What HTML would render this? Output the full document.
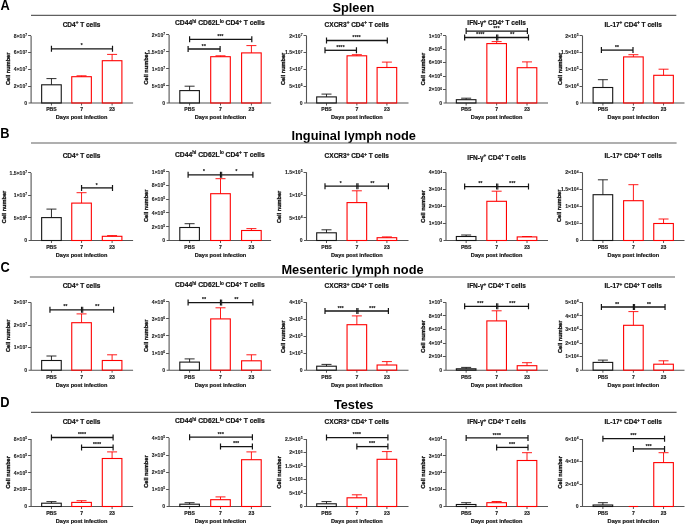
<!DOCTYPE html><html><head><meta charset="utf-8"><title>Figure</title><style>html,body{margin:0;padding:0;background:#fff;}svg{display:block;will-change:transform}
text{font-family:"Liberation Sans",sans-serif;font-weight:bold}
.L{font-size:13.8px;fill:#000}
.T{font-size:12.8px;fill:#000;text-anchor:middle}
.ct{font-size:6.5px;fill:#111;text-anchor:middle;stroke:#111;stroke-width:0.2}
.ct .s{font-size:4.6px}
.tk{font-size:5.1px;fill:#1a1a1a;text-anchor:end;stroke:#1a1a1a;stroke-width:0.1}
.tk .e{font-size:3.4px}
.xl{font-size:5.1px;fill:#222;text-anchor:middle;stroke:#222;stroke-width:0.2}
.dl{font-size:5.6px;fill:#111;text-anchor:middle;stroke:#111;stroke-width:0.2}
.yl{font-size:5.6px;fill:#111;text-anchor:middle;stroke:#111;stroke-width:0.35}
.st{font-size:4.6px;letter-spacing:0.3px;fill:#222;text-anchor:middle;stroke:#222;stroke-width:0.2}
.ax{stroke:#555;fill:none}
.k{stroke:#151515;fill:none}
.r{stroke:#ff0000;fill:none}
</style></head><body>
<svg width="685" height="525" viewBox="0 0 685 525">
<text class="L" transform="translate(0.6,9.7) scale(0.93,1)">A</text>
<text class="T" x="353.4" y="11.8">Spleen</text>
<path d="M31 15.45H676.3" stroke="#606060" stroke-width="1.2"/>
<text class="ct" x="81.55" y="26.6">CD4<tspan class="s" dy="-2.3">+</tspan><tspan dy="2.3"> T cells</tspan></text>
<path class="ax" d="M31.1 35.9V103M28.6 103H133.1" stroke-width="1.1"/>
<path class="ax" d="M28.1 35.5H31.1M28.1 52.5H31.1M28.1 69.5H31.1M28.1 86.5H31.1M51.45 103V105.5M81.55 103V105.5M112.1 103V105.5" stroke-width="1"/>
<text class="tk" x="27.2" y="37.7">8×10<tspan class="e" dy="-1.8">7</tspan></text>
<text class="tk" x="27.2" y="54.47">6×10<tspan class="e" dy="-1.8">7</tspan></text>
<text class="tk" x="27.2" y="71.25">4×10<tspan class="e" dy="-1.8">7</tspan></text>
<text class="tk" x="27.2" y="88.02">2×10<tspan class="e" dy="-1.8">7</tspan></text>
<text class="tk" x="27.2" y="104.8">0</text>
<text class="xl" x="51.45" y="111.3">PBS</text>
<text class="xl" x="81.55" y="111.3">7</text>
<text class="xl" x="112.1" y="111.3">23</text>
<text class="dl" x="81.55" y="119.4">Days post infection</text>
<text class="yl" transform="translate(9.8,68.8) rotate(-90)">Cell number</text>
<path class="k" d="M51.45 78.6V84.8M46.45 78.6H56.45" stroke-width="0.9"/>
<rect class="k" x="41.65" y="84.8" width="19.6" height="18.2" stroke-width="1.1"/>
<path class="r" d="M81.55 75.8V76.7M76.55 75.8H86.55" stroke-width="0.9"/>
<rect class="r" x="71.75" y="76.7" width="19.6" height="26.3" stroke-width="1.1"/>
<path class="r" d="M112.1 54.4V60.7M107.1 54.4H117.1" stroke-width="0.9"/>
<rect class="r" x="102.3" y="60.7" width="19.6" height="42.3" stroke-width="1.1"/>
<path class="k" d="M51.45 48.8H112.5" stroke-width="1.3"/>
<path class="k" d="M51.45 45.8V51.8M112.5 45.8V51.8" stroke-width="1.2"/>
<text class="st" x="81.82" y="47.4">*</text>
<text class="ct" style="font-size:6.75px" x="219.85" y="25.2">CD44<tspan class="s" dy="-2.3">hi</tspan><tspan dy="2.3"> CD62L</tspan><tspan class="s" dy="-2.3">lo</tspan><tspan dy="2.3"> CD4</tspan><tspan class="s" dy="-2.3">+</tspan><tspan dy="2.3"> T cells</tspan></text>
<path class="ax" d="M169.1 34.9V103M166.6 103H271.1" stroke-width="1.1"/>
<path class="ax" d="M166.1 34.5H169.1M166.1 51.5H169.1M166.1 68.5H169.1M166.1 85.5H169.1M189.6 103V105.5M220.5 103V105.5M251.4 103V105.5" stroke-width="1"/>
<text class="tk" x="165.2" y="36.7">2×10<tspan class="e" dy="-1.8">7</tspan></text>
<text class="tk" x="165.2" y="53.72">1.5×10<tspan class="e" dy="-1.8">7</tspan></text>
<text class="tk" x="165.2" y="70.75">1×10<tspan class="e" dy="-1.8">7</tspan></text>
<text class="tk" x="165.2" y="87.77">5×10<tspan class="e" dy="-1.8">6</tspan></text>
<text class="tk" x="165.2" y="104.8">0</text>
<text class="xl" x="189.6" y="111.3">PBS</text>
<text class="xl" x="220.5" y="111.3">7</text>
<text class="xl" x="251.4" y="111.3">23</text>
<text class="dl" x="220.5" y="119.4">Days post infection</text>
<text class="yl" transform="translate(147.9,68.3) rotate(-90)">Cell number</text>
<path class="k" d="M189.6 86.2V90.6M184.6 86.2H194.6" stroke-width="0.9"/>
<rect class="k" x="179.8" y="90.6" width="19.6" height="12.4" stroke-width="1.1"/>
<path class="r" d="M220.5 55.8V56.7M215.5 55.8H225.5" stroke-width="0.9"/>
<rect class="r" x="210.7" y="56.7" width="19.6" height="46.3" stroke-width="1.1"/>
<path class="r" d="M251.4 45.6V52.9M246.4 45.6H256.4" stroke-width="0.9"/>
<rect class="r" x="241.6" y="52.9" width="19.6" height="50.1" stroke-width="1.1"/>
<path class="k" d="M189.6 39.35H251.8" stroke-width="1.3"/>
<path class="k" d="M189.6 36.35V42.35M251.8 36.35V42.35" stroke-width="1.2"/>
<text class="st" x="220.55" y="37.95">***</text>
<path class="k" d="M188.1 49H220.1" stroke-width="1.3"/>
<path class="k" d="M188.1 46V52M220.1 46V52" stroke-width="1.2"/>
<text class="st" x="203.95" y="47.6">**</text>
<text class="ct" x="356.75" y="26.7">CXCR3<tspan class="s" dy="-2.3">+</tspan><tspan dy="2.3"> CD4</tspan><tspan class="s" dy="-2.3">+</tspan><tspan dy="2.3"> T cells</tspan></text>
<path class="ax" d="M306.5 35.8V103M304 103H408.5" stroke-width="1.1"/>
<path class="ax" d="M303.5 35.5H306.5M303.5 52.5H306.5M303.5 69.5H306.5M303.5 86.5H306.5M326.5 103V105.5M356.85 103V105.5M386.9 103V105.5" stroke-width="1"/>
<text class="tk" x="302.6" y="37.6">2×10<tspan class="e" dy="-1.8">7</tspan></text>
<text class="tk" x="302.6" y="54.4">1.5×10<tspan class="e" dy="-1.8">7</tspan></text>
<text class="tk" x="302.6" y="71.2">1×10<tspan class="e" dy="-1.8">7</tspan></text>
<text class="tk" x="302.6" y="88">5×10<tspan class="e" dy="-1.8">6</tspan></text>
<text class="tk" x="302.6" y="104.8">0</text>
<text class="xl" x="326.5" y="111.3">PBS</text>
<text class="xl" x="356.85" y="111.3">7</text>
<text class="xl" x="386.9" y="111.3">23</text>
<text class="dl" x="356.85" y="119.4">Days post infection</text>
<text class="yl" transform="translate(285.3,68.9) rotate(-90)">Cell number</text>
<path class="k" d="M326.5 94.1V96.9M321.5 94.1H331.5" stroke-width="0.9"/>
<rect class="k" x="316.7" y="96.9" width="19.6" height="6.1" stroke-width="1.1"/>
<path class="r" d="M356.85 54.7V55.8M351.85 54.7H361.85" stroke-width="0.9"/>
<rect class="r" x="347.05" y="55.8" width="19.6" height="47.2" stroke-width="1.1"/>
<path class="r" d="M386.9 62.1V67.5M381.9 62.1H391.9" stroke-width="0.9"/>
<rect class="r" x="377.1" y="67.5" width="19.6" height="35.5" stroke-width="1.1"/>
<path class="k" d="M326.5 40.5H387.3" stroke-width="1.3"/>
<path class="k" d="M326.5 37.5V43.5M387.3 37.5V43.5" stroke-width="1.2"/>
<text class="st" x="356.75" y="39.1">****</text>
<path class="k" d="M325 50.3H356.45" stroke-width="1.3"/>
<path class="k" d="M325 47.3V53.3M356.45 47.3V53.3" stroke-width="1.2"/>
<text class="st" x="340.58" y="48.9">****</text>
<text class="ct" x="496.6" y="24.9">IFN-γ<tspan class="s" dy="-2.3">+</tspan><tspan dy="2.3"> CD4</tspan><tspan class="s" dy="-2.3">+</tspan><tspan dy="2.3"> T cells</tspan></text>
<path class="ax" d="M446 35.7V103M443.5 103H548" stroke-width="1.1"/>
<path class="ax" d="M443 35.5H446M443 49.5H446M443 62.5H446M443 76.5H446M443 89.5H446M466.15 103V105.5M496.65 103V105.5M527 103V105.5" stroke-width="1"/>
<text class="tk" x="442.1" y="37.5">1×10<tspan class="e" dy="-1.8">7</tspan></text>
<text class="tk" x="442.1" y="50.96">8×10<tspan class="e" dy="-1.8">6</tspan></text>
<text class="tk" x="442.1" y="64.42">6×10<tspan class="e" dy="-1.8">6</tspan></text>
<text class="tk" x="442.1" y="77.88">4×10<tspan class="e" dy="-1.8">6</tspan></text>
<text class="tk" x="442.1" y="91.34">2×10<tspan class="e" dy="-1.8">6</tspan></text>
<text class="tk" x="442.1" y="104.8">0</text>
<text class="xl" x="466.15" y="111.3">PBS</text>
<text class="xl" x="496.65" y="111.3">7</text>
<text class="xl" x="527" y="111.3">23</text>
<text class="dl" x="496.65" y="119.4">Days post infection</text>
<text class="yl" transform="translate(425,69.1) rotate(-90)">Cell number</text>
<path class="k" d="M466.15 98.2V99.7M461.15 98.2H471.15" stroke-width="0.9"/>
<rect class="k" x="456.35" y="99.7" width="19.6" height="3.3" stroke-width="1.1"/>
<path class="r" d="M496.65 41.6V43.6M491.65 41.6H501.65" stroke-width="0.9"/>
<rect class="r" x="486.85" y="43.6" width="19.6" height="59.4" stroke-width="1.1"/>
<path class="r" d="M527 61.9V67.7M522 61.9H532" stroke-width="0.9"/>
<rect class="r" x="517.2" y="67.7" width="19.6" height="35.3" stroke-width="1.1"/>
<path class="k" d="M466.15 31.1H527.4" stroke-width="1.3"/>
<path class="k" d="M466.15 28.1V34.1M527.4 28.1V34.1" stroke-width="1.2"/>
<text class="st" x="496.62" y="29.7">***</text>
<path class="k" d="M464.65 37.5H528.5" stroke-width="1.3"/>
<path class="k" d="M464.65 34.5V40.5M496.65 34.5V40.5M528.5 34.5V40.5" stroke-width="1.2"/>
<path class="k" d="M497.85 34.5V40.5" stroke-width="1"/>
<text class="st" x="480.5" y="36.1">****</text>
<text class="st" x="512.43" y="36.1">**</text>
<text class="ct" x="633.15" y="26.7">IL-17<tspan class="s" dy="-2.3">+</tspan><tspan dy="2.3"> CD4</tspan><tspan class="s" dy="-2.3">+</tspan><tspan dy="2.3"> T cells</tspan></text>
<path class="ax" d="M582.5 35.7V103M580 103H684.5" stroke-width="1.1"/>
<path class="ax" d="M579.5 35.5H582.5M579.5 52.5H582.5M579.5 69.5H582.5M579.5 86.5H582.5M602.9 103V105.5M633.4 103V105.5M663.55 103V105.5" stroke-width="1"/>
<text class="tk" x="578.6" y="37.5">2×10<tspan class="e" dy="-1.8">5</tspan></text>
<text class="tk" x="578.6" y="54.32">1.5×10<tspan class="e" dy="-1.8">5</tspan></text>
<text class="tk" x="578.6" y="71.15">1×10<tspan class="e" dy="-1.8">5</tspan></text>
<text class="tk" x="578.6" y="87.98">5×10<tspan class="e" dy="-1.8">4</tspan></text>
<text class="tk" x="578.6" y="104.8">0</text>
<text class="xl" x="602.9" y="111.3">PBS</text>
<text class="xl" x="633.4" y="111.3">7</text>
<text class="xl" x="663.55" y="111.3">23</text>
<text class="dl" x="633.4" y="119.4">Days post infection</text>
<text class="yl" transform="translate(561.6,68.9) rotate(-90)">Cell number</text>
<path class="k" d="M602.9 79.7V87.5M597.9 79.7H607.9" stroke-width="0.9"/>
<rect class="k" x="593.1" y="87.5" width="19.6" height="15.5" stroke-width="1.1"/>
<path class="r" d="M633.4 54.7V56.9M628.4 54.7H638.4" stroke-width="0.9"/>
<rect class="r" x="623.6" y="56.9" width="19.6" height="46.1" stroke-width="1.1"/>
<path class="r" d="M663.55 69.2V75.3M658.55 69.2H668.55" stroke-width="0.9"/>
<rect class="r" x="653.75" y="75.3" width="19.6" height="27.7" stroke-width="1.1"/>
<path class="k" d="M601.4 50.1H633" stroke-width="1.3"/>
<path class="k" d="M601.4 47.1V53.1M633 47.1V53.1" stroke-width="1.2"/>
<text class="st" x="617.05" y="48.7">**</text>
<text class="L" transform="translate(0.2,137.6) scale(0.93,1)">B</text>
<text class="T" x="353.7" y="139.5">Inguinal lymph node</text>
<path d="M31 143H676.6" stroke="#606060" stroke-width="1.2"/>
<text class="ct" x="81.55" y="158">CD4<tspan class="s" dy="-2.3">+</tspan><tspan dy="2.3"> T cells</tspan></text>
<path class="ax" d="M31.1 172.9V240.5M28.6 240.5H133.1" stroke-width="1.1"/>
<path class="ax" d="M28.1 172.5H31.1M28.1 195.5H31.1M28.1 217.5H31.1M51.45 240.5V243M81.55 240.5V243M112.1 240.5V243" stroke-width="1"/>
<text class="tk" x="27.2" y="174.7">1.5×10<tspan class="e" dy="-1.8">7</tspan></text>
<text class="tk" x="27.2" y="197.23">1×10<tspan class="e" dy="-1.8">7</tspan></text>
<text class="tk" x="27.2" y="219.77">5×10<tspan class="e" dy="-1.8">6</tspan></text>
<text class="tk" x="27.2" y="242.3">0</text>
<text class="xl" x="51.45" y="248.8">PBS</text>
<text class="xl" x="81.55" y="248.8">7</text>
<text class="xl" x="112.1" y="248.8">23</text>
<text class="dl" x="81.55" y="256.9">Days post infection</text>
<text class="yl" transform="translate(5.7,207) rotate(-90)">Cell number</text>
<path class="k" d="M51.45 209.1V217.6M46.45 209.1H56.45" stroke-width="0.9"/>
<rect class="k" x="41.65" y="217.6" width="19.6" height="22.9" stroke-width="1.1"/>
<path class="r" d="M81.55 192.7V203.1M76.55 192.7H86.55" stroke-width="0.9"/>
<rect class="r" x="71.75" y="203.1" width="19.6" height="37.4" stroke-width="1.1"/>
<path class="r" d="M112.1 235.6V236.3M107.1 235.6H117.1" stroke-width="0.9"/>
<rect class="r" x="102.3" y="236.3" width="19.6" height="4.2" stroke-width="1.1"/>
<path class="k" d="M81.55 187.9H112.5" stroke-width="1.3"/>
<path class="k" d="M81.55 184.9V190.9M112.5 184.9V190.9" stroke-width="1.2"/>
<text class="st" x="96.88" y="186.5">*</text>
<text class="ct" style="font-size:6.75px" x="219.85" y="156.7">CD44<tspan class="s" dy="-2.3">hi</tspan><tspan dy="2.3"> CD62L</tspan><tspan class="s" dy="-2.3">lo</tspan><tspan dy="2.3"> CD4</tspan><tspan class="s" dy="-2.3">+</tspan><tspan dy="2.3"> T cells</tspan></text>
<path class="ax" d="M169.1 171.7V240.5M166.6 240.5H271.1" stroke-width="1.1"/>
<path class="ax" d="M166.1 171.5H169.1M166.1 185.5H169.1M166.1 199.5H169.1M166.1 212.5H169.1M166.1 226.5H169.1M189.6 240.5V243M220.5 240.5V243M251.4 240.5V243" stroke-width="1"/>
<text class="tk" x="165.2" y="173.5">1×10<tspan class="e" dy="-1.8">6</tspan></text>
<text class="tk" x="165.2" y="187.26">8×10<tspan class="e" dy="-1.8">5</tspan></text>
<text class="tk" x="165.2" y="201.02">6×10<tspan class="e" dy="-1.8">5</tspan></text>
<text class="tk" x="165.2" y="214.78">4×10<tspan class="e" dy="-1.8">5</tspan></text>
<text class="tk" x="165.2" y="228.54">2×10<tspan class="e" dy="-1.8">5</tspan></text>
<text class="tk" x="165.2" y="242.3">0</text>
<text class="xl" x="189.6" y="248.8">PBS</text>
<text class="xl" x="220.5" y="248.8">7</text>
<text class="xl" x="251.4" y="248.8">23</text>
<text class="dl" x="220.5" y="256.9">Days post infection</text>
<text class="yl" transform="translate(147.9,205.8) rotate(-90)">Cell number</text>
<path class="k" d="M189.6 223.7V227.5M184.6 223.7H194.6" stroke-width="0.9"/>
<rect class="k" x="179.8" y="227.5" width="19.6" height="13" stroke-width="1.1"/>
<path class="r" d="M220.5 178.7V193.7M215.5 178.7H225.5" stroke-width="0.9"/>
<rect class="r" x="210.7" y="193.7" width="19.6" height="46.8" stroke-width="1.1"/>
<path class="r" d="M251.4 228.6V230.5M246.4 228.6H256.4" stroke-width="0.9"/>
<rect class="r" x="241.6" y="230.5" width="19.6" height="10" stroke-width="1.1"/>
<path class="k" d="M188.1 174.8H252.9" stroke-width="1.3"/>
<path class="k" d="M188.1 171.8V177.8M220.5 171.8V177.8M252.9 171.8V177.8" stroke-width="1.2"/>
<path class="k" d="M221.7 171.8V177.8" stroke-width="1"/>
<text class="st" x="204.15" y="173.4">*</text>
<text class="st" x="236.55" y="173.4">*</text>
<text class="ct" x="356.75" y="158.1">CXCR3<tspan class="s" dy="-2.3">+</tspan><tspan dy="2.3"> CD4</tspan><tspan class="s" dy="-2.3">+</tspan><tspan dy="2.3"> T cells</tspan></text>
<path class="ax" d="M306.5 172.3V240.5M304 240.5H408.5" stroke-width="1.1"/>
<path class="ax" d="M303.5 172.5H306.5M303.5 195.5H306.5M303.5 217.5H306.5M326.5 240.5V243M356.85 240.5V243M386.9 240.5V243" stroke-width="1"/>
<text class="tk" x="302.6" y="174.1">1.5×10<tspan class="e" dy="-1.8">5</tspan></text>
<text class="tk" x="302.6" y="196.83">1×10<tspan class="e" dy="-1.8">5</tspan></text>
<text class="tk" x="302.6" y="219.57">5×10<tspan class="e" dy="-1.8">4</tspan></text>
<text class="tk" x="302.6" y="242.3">0</text>
<text class="xl" x="326.5" y="248.8">PBS</text>
<text class="xl" x="356.85" y="248.8">7</text>
<text class="xl" x="386.9" y="248.8">23</text>
<text class="dl" x="356.85" y="256.9">Days post infection</text>
<text class="yl" transform="translate(281.4,206.9) rotate(-90)">Cell number</text>
<path class="k" d="M326.5 229.8V232.8M321.5 229.8H331.5" stroke-width="0.9"/>
<rect class="k" x="316.7" y="232.8" width="19.6" height="7.7" stroke-width="1.1"/>
<path class="r" d="M356.85 190.8V202.6M351.85 190.8H361.85" stroke-width="0.9"/>
<rect class="r" x="347.05" y="202.6" width="19.6" height="37.9" stroke-width="1.1"/>
<path class="r" d="M386.9 236.9V237.7M381.9 236.9H391.9" stroke-width="0.9"/>
<rect class="r" x="377.1" y="237.7" width="19.6" height="2.8" stroke-width="1.1"/>
<path class="k" d="M325 186.2H388.4" stroke-width="1.3"/>
<path class="k" d="M325 183.2V189.2M356.85 183.2V189.2M388.4 183.2V189.2" stroke-width="1.2"/>
<path class="k" d="M358.05 183.2V189.2" stroke-width="1"/>
<text class="st" x="340.78" y="184.8">*</text>
<text class="st" x="372.48" y="184.8">**</text>
<text class="ct" x="496.6" y="159.6">IFN-γ<tspan class="s" dy="-2.3">+</tspan><tspan dy="2.3"> CD4</tspan><tspan class="s" dy="-2.3">+</tspan><tspan dy="2.3"> T cells</tspan></text>
<path class="ax" d="M446 172.5V240.5M443.5 240.5H548" stroke-width="1.1"/>
<path class="ax" d="M443 172.5H446M443 189.5H446M443 206.5H446M443 223.5H446M466.15 240.5V243M496.65 240.5V243M527 240.5V243" stroke-width="1"/>
<text class="tk" x="442.1" y="174.3">4×10<tspan class="e" dy="-1.8">4</tspan></text>
<text class="tk" x="442.1" y="191.3">3×10<tspan class="e" dy="-1.8">4</tspan></text>
<text class="tk" x="442.1" y="208.3">2×10<tspan class="e" dy="-1.8">4</tspan></text>
<text class="tk" x="442.1" y="225.3">1×10<tspan class="e" dy="-1.8">4</tspan></text>
<text class="tk" x="442.1" y="242.3">0</text>
<text class="xl" x="466.15" y="248.8">PBS</text>
<text class="xl" x="496.65" y="248.8">7</text>
<text class="xl" x="527" y="248.8">23</text>
<text class="dl" x="496.65" y="256.9">Days post infection</text>
<text class="yl" transform="translate(424.9,206.5) rotate(-90)">Cell number</text>
<path class="k" d="M466.15 235V236.5M461.15 235H471.15" stroke-width="0.9"/>
<rect class="k" x="456.35" y="236.5" width="19.6" height="4" stroke-width="1.1"/>
<path class="r" d="M496.65 191.2V201.3M491.65 191.2H501.65" stroke-width="0.9"/>
<rect class="r" x="486.85" y="201.3" width="19.6" height="39.2" stroke-width="1.1"/>
<path class="r" d="M527 236.5V236.9M522 236.5H532" stroke-width="0.9"/>
<rect class="r" x="517.2" y="236.9" width="19.6" height="3.6" stroke-width="1.1"/>
<path class="k" d="M464.65 186.6H528.5" stroke-width="1.3"/>
<path class="k" d="M464.65 183.6V189.6M496.65 183.6V189.6M528.5 183.6V189.6" stroke-width="1.2"/>
<path class="k" d="M497.85 183.6V189.6" stroke-width="1"/>
<text class="st" x="480.5" y="185.2">**</text>
<text class="st" x="512.43" y="185.2">***</text>
<text class="ct" x="633.15" y="157.8">IL-17<tspan class="s" dy="-2.3">+</tspan><tspan dy="2.3"> CD4</tspan><tspan class="s" dy="-2.3">+</tspan><tspan dy="2.3"> T cells</tspan></text>
<path class="ax" d="M582.5 172.5V240.5M580 240.5H684.5" stroke-width="1.1"/>
<path class="ax" d="M579.5 172.5H582.5M579.5 189.5H582.5M579.5 206.5H582.5M579.5 223.5H582.5M602.9 240.5V243M633.4 240.5V243M663.55 240.5V243" stroke-width="1"/>
<text class="tk" x="578.6" y="174.3">2×10<tspan class="e" dy="-1.8">4</tspan></text>
<text class="tk" x="578.6" y="191.3">1.5×10<tspan class="e" dy="-1.8">4</tspan></text>
<text class="tk" x="578.6" y="208.3">1×10<tspan class="e" dy="-1.8">4</tspan></text>
<text class="tk" x="578.6" y="225.3">5×10<tspan class="e" dy="-1.8">3</tspan></text>
<text class="tk" x="578.6" y="242.3">0</text>
<text class="xl" x="602.9" y="248.8">PBS</text>
<text class="xl" x="633.4" y="248.8">7</text>
<text class="xl" x="663.55" y="248.8">23</text>
<text class="dl" x="633.4" y="256.9">Days post infection</text>
<text class="yl" transform="translate(561.2,205.8) rotate(-90)">Cell number</text>
<path class="k" d="M602.9 179.8V194.7M597.9 179.8H607.9" stroke-width="0.9"/>
<rect class="k" x="593.1" y="194.7" width="19.6" height="45.8" stroke-width="1.1"/>
<path class="r" d="M633.4 184.7V200.7M628.4 184.7H638.4" stroke-width="0.9"/>
<rect class="r" x="623.6" y="200.7" width="19.6" height="39.8" stroke-width="1.1"/>
<path class="r" d="M663.55 219V223.5M658.55 219H668.55" stroke-width="0.9"/>
<rect class="r" x="653.75" y="223.5" width="19.6" height="17" stroke-width="1.1"/>
<text class="L" transform="translate(0.6,271.5) scale(0.93,1)">C</text>
<text class="T" x="352.5" y="273.7">Mesenteric lymph node</text>
<path d="M29.9 277H675" stroke="#606060" stroke-width="1.2"/>
<text class="ct" x="81.55" y="287.9">CD4<tspan class="s" dy="-2.3">+</tspan><tspan dy="2.3"> T cells</tspan></text>
<path class="ax" d="M31.1 302.5V370.2M28.6 370.2H133.1" stroke-width="1.1"/>
<path class="ax" d="M28.1 302.5H31.1M28.1 325.5H31.1M28.1 347.5H31.1M51.45 370.2V372.7M81.55 370.2V372.7M112.1 370.2V372.7" stroke-width="1"/>
<text class="tk" x="27.2" y="304.3">3×10<tspan class="e" dy="-1.8">7</tspan></text>
<text class="tk" x="27.2" y="326.87">2×10<tspan class="e" dy="-1.8">7</tspan></text>
<text class="tk" x="27.2" y="349.43">1×10<tspan class="e" dy="-1.8">7</tspan></text>
<text class="tk" x="27.2" y="372">0</text>
<text class="xl" x="51.45" y="378.5">PBS</text>
<text class="xl" x="81.55" y="378.5">7</text>
<text class="xl" x="112.1" y="378.5">23</text>
<text class="dl" x="81.55" y="386.6">Days post infection</text>
<text class="yl" transform="translate(10.1,335.8) rotate(-90)">Cell number</text>
<path class="k" d="M51.45 356V360.5M46.45 356H56.45" stroke-width="0.9"/>
<rect class="k" x="41.65" y="360.5" width="19.6" height="9.7" stroke-width="1.1"/>
<path class="r" d="M81.55 313.9V322.7M76.55 313.9H86.55" stroke-width="0.9"/>
<rect class="r" x="71.75" y="322.7" width="19.6" height="47.5" stroke-width="1.1"/>
<path class="r" d="M112.1 354.8V360.5M107.1 354.8H117.1" stroke-width="0.9"/>
<rect class="r" x="102.3" y="360.5" width="19.6" height="9.7" stroke-width="1.1"/>
<path class="k" d="M49.95 309.8H113.6" stroke-width="1.3"/>
<path class="k" d="M49.95 306.8V312.8M81.55 306.8V312.8M113.6 306.8V312.8" stroke-width="1.2"/>
<path class="k" d="M82.75 306.8V312.8" stroke-width="1"/>
<text class="st" x="65.6" y="308.4">**</text>
<text class="st" x="97.42" y="308.4">**</text>
<text class="ct" style="font-size:6.75px" x="219.85" y="286.9">CD44<tspan class="s" dy="-2.3">hi</tspan><tspan dy="2.3"> CD62L</tspan><tspan class="s" dy="-2.3">lo</tspan><tspan dy="2.3"> CD4</tspan><tspan class="s" dy="-2.3">+</tspan><tspan dy="2.3"> T cells</tspan></text>
<path class="ax" d="M169.1 301.7V370.2M166.6 370.2H271.1" stroke-width="1.1"/>
<path class="ax" d="M166.1 301.5H169.1M166.1 318.5H169.1M166.1 335.5H169.1M166.1 353.5H169.1M189.6 370.2V372.7M220.5 370.2V372.7M251.4 370.2V372.7" stroke-width="1"/>
<text class="tk" x="165.2" y="303.5">4×10<tspan class="e" dy="-1.8">6</tspan></text>
<text class="tk" x="165.2" y="320.62">3×10<tspan class="e" dy="-1.8">6</tspan></text>
<text class="tk" x="165.2" y="337.75">2×10<tspan class="e" dy="-1.8">6</tspan></text>
<text class="tk" x="165.2" y="354.88">1×10<tspan class="e" dy="-1.8">6</tspan></text>
<text class="tk" x="165.2" y="372">0</text>
<text class="xl" x="189.6" y="378.5">PBS</text>
<text class="xl" x="220.5" y="378.5">7</text>
<text class="xl" x="251.4" y="378.5">23</text>
<text class="dl" x="220.5" y="386.6">Days post infection</text>
<text class="yl" transform="translate(147.9,335.8) rotate(-90)">Cell number</text>
<path class="k" d="M189.6 358.9V362.1M184.6 358.9H194.6" stroke-width="0.9"/>
<rect class="k" x="179.8" y="362.1" width="19.6" height="8.1" stroke-width="1.1"/>
<path class="r" d="M220.5 307.8V318.9M215.5 307.8H225.5" stroke-width="0.9"/>
<rect class="r" x="210.7" y="318.9" width="19.6" height="51.3" stroke-width="1.1"/>
<path class="r" d="M251.4 354.8V360.8M246.4 354.8H256.4" stroke-width="0.9"/>
<rect class="r" x="241.6" y="360.8" width="19.6" height="9.4" stroke-width="1.1"/>
<path class="k" d="M188.1 302.6H252.9" stroke-width="1.3"/>
<path class="k" d="M188.1 299.6V305.6M220.5 299.6V305.6M252.9 299.6V305.6" stroke-width="1.2"/>
<path class="k" d="M221.7 299.6V305.6" stroke-width="1"/>
<text class="st" x="204.15" y="301.2">**</text>
<text class="st" x="236.55" y="301.2">**</text>
<text class="ct" x="356.75" y="288.1">CXCR3<tspan class="s" dy="-2.3">+</tspan><tspan dy="2.3"> CD4</tspan><tspan class="s" dy="-2.3">+</tspan><tspan dy="2.3"> T cells</tspan></text>
<path class="ax" d="M306.5 302.2V370.2M304 370.2H408.5" stroke-width="1.1"/>
<path class="ax" d="M303.5 302.5H306.5M303.5 319.5H306.5M303.5 336.5H306.5M303.5 353.5H306.5M326.5 370.2V372.7M356.85 370.2V372.7M386.9 370.2V372.7" stroke-width="1"/>
<text class="tk" x="302.6" y="304">4×10<tspan class="e" dy="-1.8">5</tspan></text>
<text class="tk" x="302.6" y="321">3×10<tspan class="e" dy="-1.8">5</tspan></text>
<text class="tk" x="302.6" y="338">2×10<tspan class="e" dy="-1.8">5</tspan></text>
<text class="tk" x="302.6" y="355">1×10<tspan class="e" dy="-1.8">5</tspan></text>
<text class="tk" x="302.6" y="372">0</text>
<text class="xl" x="326.5" y="378.5">PBS</text>
<text class="xl" x="356.85" y="378.5">7</text>
<text class="xl" x="386.9" y="378.5">23</text>
<text class="dl" x="356.85" y="386.6">Days post infection</text>
<text class="yl" transform="translate(284.9,336.8) rotate(-90)">Cell number</text>
<path class="k" d="M326.5 364.4V366.2M321.5 364.4H331.5" stroke-width="0.9"/>
<rect class="k" x="316.7" y="366.2" width="19.6" height="4" stroke-width="1.1"/>
<path class="r" d="M356.85 315.9V324.7M351.85 315.9H361.85" stroke-width="0.9"/>
<rect class="r" x="347.05" y="324.7" width="19.6" height="45.5" stroke-width="1.1"/>
<path class="r" d="M386.9 361.6V365M381.9 361.6H391.9" stroke-width="0.9"/>
<rect class="r" x="377.1" y="365" width="19.6" height="5.2" stroke-width="1.1"/>
<path class="k" d="M325 311H388.4" stroke-width="1.3"/>
<path class="k" d="M325 308V314M356.85 308V314M388.4 308V314" stroke-width="1.2"/>
<path class="k" d="M358.05 308V314" stroke-width="1"/>
<text class="st" x="340.78" y="309.6">***</text>
<text class="st" x="372.48" y="309.6">***</text>
<text class="ct" x="496.6" y="287.9">IFN-γ<tspan class="s" dy="-2.3">+</tspan><tspan dy="2.3"> CD4</tspan><tspan class="s" dy="-2.3">+</tspan><tspan dy="2.3"> T cells</tspan></text>
<path class="ax" d="M446 302.2V370.2M443.5 370.2H548" stroke-width="1.1"/>
<path class="ax" d="M443 302.5H446M443 315.5H446M443 329.5H446M443 343.5H446M443 356.5H446M466.15 370.2V372.7M496.65 370.2V372.7M527 370.2V372.7" stroke-width="1"/>
<text class="tk" x="442.1" y="304">1×10<tspan class="e" dy="-1.8">5</tspan></text>
<text class="tk" x="442.1" y="317.6">8×10<tspan class="e" dy="-1.8">4</tspan></text>
<text class="tk" x="442.1" y="331.2">6×10<tspan class="e" dy="-1.8">4</tspan></text>
<text class="tk" x="442.1" y="344.8">4×10<tspan class="e" dy="-1.8">4</tspan></text>
<text class="tk" x="442.1" y="358.4">2×10<tspan class="e" dy="-1.8">4</tspan></text>
<text class="tk" x="442.1" y="372">0</text>
<text class="xl" x="466.15" y="378.5">PBS</text>
<text class="xl" x="496.65" y="378.5">7</text>
<text class="xl" x="527" y="378.5">23</text>
<text class="dl" x="496.65" y="386.6">Days post infection</text>
<text class="yl" transform="translate(424.9,336.5) rotate(-90)">Cell number</text>
<path class="k" d="M466.15 367.4V368.8M461.15 367.4H471.15" stroke-width="0.9"/>
<rect class="k" x="456.35" y="368.8" width="19.6" height="1.4" stroke-width="1.1"/>
<path class="r" d="M496.65 310.8V320.9M491.65 310.8H501.65" stroke-width="0.9"/>
<rect class="r" x="486.85" y="320.9" width="19.6" height="49.3" stroke-width="1.1"/>
<path class="r" d="M527 362.7V365.7M522 362.7H532" stroke-width="0.9"/>
<rect class="r" x="517.2" y="365.7" width="19.6" height="4.5" stroke-width="1.1"/>
<path class="k" d="M464.65 306.3H528.5" stroke-width="1.3"/>
<path class="k" d="M464.65 303.3V309.3M496.65 303.3V309.3M528.5 303.3V309.3" stroke-width="1.2"/>
<path class="k" d="M497.85 303.3V309.3" stroke-width="1"/>
<text class="st" x="480.5" y="304.9">***</text>
<text class="st" x="512.43" y="304.9">***</text>
<text class="ct" x="633.15" y="288.1">IL-17<tspan class="s" dy="-2.3">+</tspan><tspan dy="2.3"> CD4</tspan><tspan class="s" dy="-2.3">+</tspan><tspan dy="2.3"> T cells</tspan></text>
<path class="ax" d="M582.5 302.2V370.2M580 370.2H684.5" stroke-width="1.1"/>
<path class="ax" d="M579.5 302.5H582.5M579.5 315.5H582.5M579.5 329.5H582.5M579.5 343.5H582.5M579.5 356.5H582.5M602.9 370.2V372.7M633.4 370.2V372.7M663.55 370.2V372.7" stroke-width="1"/>
<text class="tk" x="578.6" y="304">5×10<tspan class="e" dy="-1.8">4</tspan></text>
<text class="tk" x="578.6" y="317.6">4×10<tspan class="e" dy="-1.8">4</tspan></text>
<text class="tk" x="578.6" y="331.2">3×10<tspan class="e" dy="-1.8">4</tspan></text>
<text class="tk" x="578.6" y="344.8">2×10<tspan class="e" dy="-1.8">4</tspan></text>
<text class="tk" x="578.6" y="358.4">1×10<tspan class="e" dy="-1.8">4</tspan></text>
<text class="tk" x="578.6" y="372">0</text>
<text class="xl" x="602.9" y="378.5">PBS</text>
<text class="xl" x="633.4" y="378.5">7</text>
<text class="xl" x="663.55" y="378.5">23</text>
<text class="dl" x="633.4" y="386.6">Days post infection</text>
<text class="yl" transform="translate(561.5,336.8) rotate(-90)">Cell number</text>
<path class="k" d="M602.9 360.1V362.4M597.9 360.1H607.9" stroke-width="0.9"/>
<rect class="k" x="593.1" y="362.4" width="19.6" height="7.8" stroke-width="1.1"/>
<path class="r" d="M633.4 311.6V325.3M628.4 311.6H638.4" stroke-width="0.9"/>
<rect class="r" x="623.6" y="325.3" width="19.6" height="44.9" stroke-width="1.1"/>
<path class="r" d="M663.55 360.8V364.2M658.55 360.8H668.55" stroke-width="0.9"/>
<rect class="r" x="653.75" y="364.2" width="19.6" height="6" stroke-width="1.1"/>
<path class="k" d="M601.4 307H665.05" stroke-width="1.3"/>
<path class="k" d="M601.4 304V310M633.4 304V310M665.05 304V310" stroke-width="1.2"/>
<path class="k" d="M634.6 304V310" stroke-width="1"/>
<text class="st" x="617.25" y="305.6">**</text>
<text class="st" x="649.07" y="305.6">**</text>
<text class="L" transform="translate(0.2,406.7) scale(0.93,1)">D</text>
<text class="T" x="353.7" y="409.1">Testes</text>
<path d="M31 412.45H676.6" stroke="#606060" stroke-width="1.2"/>
<text class="ct" x="81.55" y="424">CD4<tspan class="s" dy="-2.3">+</tspan><tspan dy="2.3"> T cells</tspan></text>
<path class="ax" d="M31.1 439.1V506.5M28.6 506.5H133.1" stroke-width="1.1"/>
<path class="ax" d="M28.1 439.5H31.1M28.1 455.5H31.1M28.1 472.5H31.1M28.1 489.5H31.1M51.45 506.5V509M81.55 506.5V509M112.1 506.5V509" stroke-width="1"/>
<text class="tk" x="27.2" y="440.9">8×10<tspan class="e" dy="-1.8">5</tspan></text>
<text class="tk" x="27.2" y="457.75">6×10<tspan class="e" dy="-1.8">5</tspan></text>
<text class="tk" x="27.2" y="474.6">4×10<tspan class="e" dy="-1.8">5</tspan></text>
<text class="tk" x="27.2" y="491.45">2×10<tspan class="e" dy="-1.8">5</tspan></text>
<text class="tk" x="27.2" y="508.3">0</text>
<text class="xl" x="51.45" y="514.8">PBS</text>
<text class="xl" x="81.55" y="514.8">7</text>
<text class="xl" x="112.1" y="514.8">23</text>
<text class="dl" x="81.55" y="522.9">Days post infection</text>
<text class="yl" transform="translate(10.1,472.3) rotate(-90)">Cell number</text>
<path class="k" d="M51.45 501.6V503.2M46.45 501.6H56.45" stroke-width="0.9"/>
<rect class="k" x="41.65" y="503.2" width="19.6" height="3.3" stroke-width="1.1"/>
<path class="r" d="M81.55 500.7V502.4M76.55 500.7H86.55" stroke-width="0.9"/>
<rect class="r" x="71.75" y="502.4" width="19.6" height="4.1" stroke-width="1.1"/>
<path class="r" d="M112.1 451.9V458.5M107.1 451.9H117.1" stroke-width="0.9"/>
<rect class="r" x="102.3" y="458.5" width="19.6" height="48" stroke-width="1.1"/>
<path class="k" d="M51.45 437.5H113.1" stroke-width="1.3"/>
<path class="k" d="M51.45 434.5V440.5M113.1 434.5V440.5" stroke-width="1.2"/>
<text class="st" x="82.12" y="436.1">****</text>
<path class="k" d="M81.55 447.4H113.1" stroke-width="1.3"/>
<path class="k" d="M81.55 444.4V450.4M113.1 444.4V450.4" stroke-width="1.2"/>
<text class="st" x="97.17" y="446">****</text>
<text class="ct" style="font-size:6.75px" x="219.85" y="423.2">CD44<tspan class="s" dy="-2.3">hi</tspan><tspan dy="2.3"> CD62L</tspan><tspan class="s" dy="-2.3">lo</tspan><tspan dy="2.3"> CD4</tspan><tspan class="s" dy="-2.3">+</tspan><tspan dy="2.3"> T cells</tspan></text>
<path class="ax" d="M169.1 437.9V506.5M166.6 506.5H271.1" stroke-width="1.1"/>
<path class="ax" d="M166.1 437.5H169.1M166.1 455.5H169.1M166.1 472.5H169.1M166.1 489.5H169.1M189.6 506.5V509M220.5 506.5V509M251.4 506.5V509" stroke-width="1"/>
<text class="tk" x="165.2" y="439.7">4×10<tspan class="e" dy="-1.8">5</tspan></text>
<text class="tk" x="165.2" y="456.85">3×10<tspan class="e" dy="-1.8">5</tspan></text>
<text class="tk" x="165.2" y="474">2×10<tspan class="e" dy="-1.8">5</tspan></text>
<text class="tk" x="165.2" y="491.15">1×10<tspan class="e" dy="-1.8">5</tspan></text>
<text class="tk" x="165.2" y="508.3">0</text>
<text class="xl" x="189.6" y="514.8">PBS</text>
<text class="xl" x="220.5" y="514.8">7</text>
<text class="xl" x="251.4" y="514.8">23</text>
<text class="dl" x="220.5" y="522.9">Days post infection</text>
<text class="yl" transform="translate(147.9,471.6) rotate(-90)">Cell number</text>
<path class="k" d="M189.6 502.7V504.2M184.6 502.7H194.6" stroke-width="0.9"/>
<rect class="k" x="179.8" y="504.2" width="19.6" height="2.3" stroke-width="1.1"/>
<path class="r" d="M220.5 496.9V499.7M215.5 496.9H225.5" stroke-width="0.9"/>
<rect class="r" x="210.7" y="499.7" width="19.6" height="6.8" stroke-width="1.1"/>
<path class="r" d="M251.4 451.9V459.7M246.4 451.9H256.4" stroke-width="0.9"/>
<rect class="r" x="241.6" y="459.7" width="19.6" height="46.8" stroke-width="1.1"/>
<path class="k" d="M189.6 437.2H252.4" stroke-width="1.3"/>
<path class="k" d="M189.6 434.2V440.2M252.4 434.2V440.2" stroke-width="1.2"/>
<text class="st" x="220.85" y="435.8">***</text>
<path class="k" d="M220.5 446.6H252.4" stroke-width="1.3"/>
<path class="k" d="M220.5 443.6V449.6M252.4 443.6V449.6" stroke-width="1.2"/>
<text class="st" x="236.3" y="445.2">***</text>
<text class="ct" x="356.75" y="424.3">CXCR3<tspan class="s" dy="-2.3">+</tspan><tspan dy="2.3"> CD4</tspan><tspan class="s" dy="-2.3">+</tspan><tspan dy="2.3"> T cells</tspan></text>
<path class="ax" d="M306.5 439.1V506.5M304 506.5H408.5" stroke-width="1.1"/>
<path class="ax" d="M303.5 439.5H306.5M303.5 452.5H306.5M303.5 466.5H306.5M303.5 479.5H306.5M303.5 493.5H306.5M326.5 506.5V509M356.85 506.5V509M386.9 506.5V509" stroke-width="1"/>
<text class="tk" x="302.6" y="440.9">2.5×10<tspan class="e" dy="-1.8">5</tspan></text>
<text class="tk" x="302.6" y="454.38">2×10<tspan class="e" dy="-1.8">5</tspan></text>
<text class="tk" x="302.6" y="467.86">1.5×10<tspan class="e" dy="-1.8">5</tspan></text>
<text class="tk" x="302.6" y="481.34">1×10<tspan class="e" dy="-1.8">5</tspan></text>
<text class="tk" x="302.6" y="494.82">5×10<tspan class="e" dy="-1.8">4</tspan></text>
<text class="tk" x="302.6" y="508.3">0</text>
<text class="xl" x="326.5" y="514.8">PBS</text>
<text class="xl" x="356.85" y="514.8">7</text>
<text class="xl" x="386.9" y="514.8">23</text>
<text class="dl" x="356.85" y="522.9">Days post infection</text>
<text class="yl" transform="translate(281.4,472.3) rotate(-90)">Cell number</text>
<path class="k" d="M326.5 501.6V503.8M321.5 501.6H331.5" stroke-width="0.9"/>
<rect class="k" x="316.7" y="503.8" width="19.6" height="2.7" stroke-width="1.1"/>
<path class="r" d="M356.85 494.8V497.8M351.85 494.8H361.85" stroke-width="0.9"/>
<rect class="r" x="347.05" y="497.8" width="19.6" height="8.7" stroke-width="1.1"/>
<path class="r" d="M386.9 451.6V459.3M381.9 451.6H391.9" stroke-width="0.9"/>
<rect class="r" x="377.1" y="459.3" width="19.6" height="47.2" stroke-width="1.1"/>
<path class="k" d="M326.5 437.6H387.9" stroke-width="1.3"/>
<path class="k" d="M326.5 434.6V440.6M387.9 434.6V440.6" stroke-width="1.2"/>
<text class="st" x="357.05" y="436.2">****</text>
<path class="k" d="M356.85 446.6H387.9" stroke-width="1.3"/>
<path class="k" d="M356.85 443.6V449.6M387.9 443.6V449.6" stroke-width="1.2"/>
<text class="st" x="372.23" y="445.2">***</text>
<text class="ct" x="496.6" y="424.3">IFN-γ<tspan class="s" dy="-2.3">+</tspan><tspan dy="2.3"> CD4</tspan><tspan class="s" dy="-2.3">+</tspan><tspan dy="2.3"> T cells</tspan></text>
<path class="ax" d="M446 439.1V506.5M443.5 506.5H548" stroke-width="1.1"/>
<path class="ax" d="M443 439.5H446M443 455.5H446M443 472.5H446M443 489.5H446M466.15 506.5V509M496.65 506.5V509M527 506.5V509" stroke-width="1"/>
<text class="tk" x="442.1" y="440.9">4×10<tspan class="e" dy="-1.8">4</tspan></text>
<text class="tk" x="442.1" y="457.75">3×10<tspan class="e" dy="-1.8">4</tspan></text>
<text class="tk" x="442.1" y="474.6">2×10<tspan class="e" dy="-1.8">4</tspan></text>
<text class="tk" x="442.1" y="491.45">1×10<tspan class="e" dy="-1.8">4</tspan></text>
<text class="tk" x="442.1" y="508.3">0</text>
<text class="xl" x="466.15" y="514.8">PBS</text>
<text class="xl" x="496.65" y="514.8">7</text>
<text class="xl" x="527" y="514.8">23</text>
<text class="dl" x="496.65" y="522.9">Days post infection</text>
<text class="yl" transform="translate(424.9,472.3) rotate(-90)">Cell number</text>
<path class="k" d="M466.15 502.7V504.5M461.15 502.7H471.15" stroke-width="0.9"/>
<rect class="k" x="456.35" y="504.5" width="19.6" height="2" stroke-width="1.1"/>
<path class="r" d="M496.65 501.5V502.7M491.65 501.5H501.65" stroke-width="0.9"/>
<rect class="r" x="486.85" y="502.7" width="19.6" height="3.8" stroke-width="1.1"/>
<path class="r" d="M527 452.7V460.5M522 452.7H532" stroke-width="0.9"/>
<rect class="r" x="517.2" y="460.5" width="19.6" height="46" stroke-width="1.1"/>
<path class="k" d="M466.15 437.9H528" stroke-width="1.3"/>
<path class="k" d="M466.15 434.9V440.9M528 434.9V440.9" stroke-width="1.2"/>
<text class="st" x="496.93" y="436.5">****</text>
<path class="k" d="M496.65 447.4H528" stroke-width="1.3"/>
<path class="k" d="M496.65 444.4V450.4M528 444.4V450.4" stroke-width="1.2"/>
<text class="st" x="512.18" y="446">***</text>
<text class="ct" x="633.15" y="424.3">IL-17<tspan class="s" dy="-2.3">+</tspan><tspan dy="2.3"> CD4</tspan><tspan class="s" dy="-2.3">+</tspan><tspan dy="2.3"> T cells</tspan></text>
<path class="ax" d="M582.5 439.1V506.5M580 506.5H684.5" stroke-width="1.1"/>
<path class="ax" d="M579.5 439.5H582.5M579.5 461.5H582.5M579.5 484.5H582.5M602.9 506.5V509M633.4 506.5V509M663.55 506.5V509" stroke-width="1"/>
<text class="tk" x="578.6" y="440.9">6×10<tspan class="e" dy="-1.8">4</tspan></text>
<text class="tk" x="578.6" y="463.37">4×10<tspan class="e" dy="-1.8">4</tspan></text>
<text class="tk" x="578.6" y="485.83">2×10<tspan class="e" dy="-1.8">4</tspan></text>
<text class="tk" x="578.6" y="508.3">0</text>
<text class="xl" x="602.9" y="514.8">PBS</text>
<text class="xl" x="633.4" y="514.8">7</text>
<text class="xl" x="663.55" y="514.8">23</text>
<text class="dl" x="633.4" y="522.9">Days post infection</text>
<text class="yl" transform="translate(561.5,472.3) rotate(-90)">Cell number</text>
<path class="k" d="M602.9 502.7V505M597.9 502.7H607.9" stroke-width="0.9"/>
<rect class="k" x="593.1" y="505" width="19.6" height="1.5" stroke-width="1.1"/>
<path class="r" d="M628.7 506.5H638.1" stroke-width="1.1"/>
<path class="r" d="M663.55 452.7V462.6M658.55 452.7H668.55" stroke-width="0.9"/>
<rect class="r" x="653.75" y="462.6" width="19.6" height="43.9" stroke-width="1.1"/>
<path class="k" d="M602.9 438.7H664.55" stroke-width="1.3"/>
<path class="k" d="M602.9 435.7V441.7M664.55 435.7V441.7" stroke-width="1.2"/>
<text class="st" x="633.57" y="437.3">***</text>
<path class="k" d="M633.4 448.9H664.55" stroke-width="1.3"/>
<path class="k" d="M633.4 445.9V451.9M664.55 445.9V451.9" stroke-width="1.2"/>
<text class="st" x="648.82" y="447.5">***</text>
</svg></body></html>
